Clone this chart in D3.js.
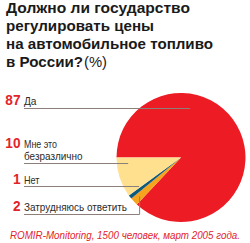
<!DOCTYPE html>
<html><head><meta charset="utf-8">
<script src="https://cdn.jsdelivr.net/npm/d3@7"></script>
<style>
body{margin:0;background:#fff;}
svg{display:block;}
</style></head>
<body>
<script>
// ---- data ----
const titleLines = ["Должно ли государство", "регулировать цены", "на автомобильное топливо", "в России?"];
const titleUnit = "(%)";
const categories = ["Да", "Мне это безразлично", "Нет", "Затрудняюсь ответить"];
const labelLines = [["Да"], ["Мне это", "безразлично"], ["Нет"], ["Затрудняюсь ответить"]];
const values = [87, 10, 1, 2];
const pieOrder = [0, 3, 2, 1]; // clockwise from 9 o'clock
const colors = ["#ed1c24", "#fee08f", "#0d5a7e", "#f6a31d"];
const source = "ROMIR-Monitoring, 1500 человек, март 2005 года.";

// ---- layout ----
const W = 250, H = 243;
const svg = d3.select("body").append("svg").attr("width", W).attr("height", H);
const cx = 181, cy = 157.5, R = 64.5;

// title
const titleBase = [12.5, 30.5, 48.5, 66.5];
const titleWidths = [184, 148, 207, 77];
titleLines.forEach((t, i) => {
  svg.append("text").attr("x", 6).attr("y", titleBase[i])
    .attr("font-family", "Liberation Sans, Arial, sans-serif")
    .attr("font-weight", "bold").attr("font-size", 14.5).attr("fill", "#1a1a1a")
    .attr("textLength", titleWidths[i]).attr("lengthAdjust", "spacingAndGlyphs")
    .text(t);
});
svg.append("text").attr("x", 84).attr("y", titleBase[3])
  .attr("font-family", "Liberation Sans, Arial, sans-serif")
  .attr("font-size", 14.5).attr("fill", "#1a1a1a")
  .attr("textLength", 23).attr("lengthAdjust", "spacingAndGlyphs")
  .text(titleUnit);

// pie
const pie = d3.pie().sort(null).value(i => values[i])
  .startAngle(-Math.PI / 2).endAngle(1.5 * Math.PI);
const arcs = pie(pieOrder);
const arc = d3.arc().innerRadius(0).outerRadius(R);
const g = svg.append("g").attr("transform", `translate(${cx},${cy})`);
g.selectAll("path").data(arcs).join("path")
  .attr("d", arc).attr("fill", d => colors[d.data]);

// label layout (annotation positions)
const labelBase = [[105], [147.5, 160], [183.5], [211]];
const lineY = [108.5, 163.5, 186.5, 214.5];
const labelWidths = [[12.5], [33, 58.5], [15.5], [103]];
const arcByCat = {};
arcs.forEach(a => arcByCat[a.data] = a);
// leader targets: point inside each slice (angle fraction, radius fraction)
const leaderAngleFrac = [0.335, 0.5, 0.3, 0.5];
const leaderRad = [0.98, 0.86, 0.83, 0.88];

const lineColor = "#8c7f7a";
categories.forEach((c, i) => {
  const a = arcByCat[i];
  const ang = a.startAngle + (a.endAngle - a.startAngle) * leaderAngleFrac[i];
  const r = R * leaderRad[i];
  let tx = cx + r * Math.sin(ang);
  let ty = cy - r * Math.cos(ang);
  if (i === 0) { tx = cx + 9; }
  // number
  svg.append("text").attr("x", 20.5).attr("y", labelBase[i][0])
    .attr("text-anchor", "end")
    .attr("font-family", "Liberation Sans Narrow, Liberation Sans, Arial, sans-serif")
    .attr("font-weight", "bold").attr("font-size", 14).attr("fill", "#e3232a")
    .attr("textLength", String(values[i]).length * 7.6).attr("lengthAdjust", "spacingAndGlyphs")
    .text(values[i]);
  labelLines[i].forEach((t, j) => {
    svg.append("text").attr("x", 24).attr("y", labelBase[i][j])
      .attr("font-family", "Liberation Sans Narrow, Liberation Sans, Arial, sans-serif")
      .attr("font-size", 11).attr("fill", "#2b2b2b")
      .attr("textLength", labelWidths[i][j]).attr("lengthAdjust", "spacingAndGlyphs")
      .text(t);
  });
  const y = lineY[i];
  if (i === 3) {
    svg.append("path").attr("d", `M24,${y}H${tx.toFixed(1)}V${ty.toFixed(1)}`)
      .attr("fill", "none").attr("stroke", lineColor).attr("stroke-width", 1);
  } else {
    svg.append("path").attr("d", `M24,${y}H${tx.toFixed(1)}`)
      .attr("fill", "none").attr("stroke", lineColor).attr("stroke-width", 1);
  }
});

// source
svg.append("text").attr("x", 10).attr("y", 239)
  .attr("font-family", "Liberation Sans Narrow, Liberation Sans, Arial, sans-serif")
  .attr("font-style", "italic").attr("font-size", 10).attr("fill", "#e3232a")
  .attr("textLength", 230).attr("lengthAdjust", "spacingAndGlyphs")
  .text(source);
</script>
</body></html>
